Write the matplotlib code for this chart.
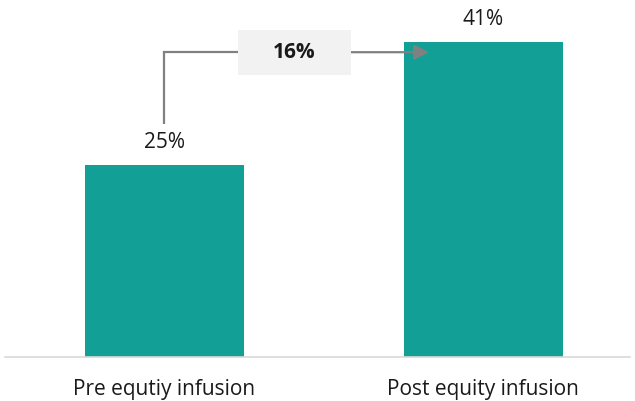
import matplotlib.pyplot as plt
from matplotlib.patches import Rectangle

categories = ["Pre equtiy infusion", "Post equity infusion"]
values = [25, 41]
change_label = "16%"

plt.rcParams["font.family"] = ["Open Sans", "DejaVu Sans"]

fig = plt.figure(figsize=(6.35, 4.01), dpi=100)
ax = fig.add_axes([5 / 635, 44 / 401, 625 / 635, 357 / 401])

x = list(range(len(categories)))
ax.bar(x, values, width=0.5, color="#12A096")

for xi, v in zip(x, values):
    ax.text(xi, v + 3.0, f"{v}%", ha="center", va="center", fontsize=15, color="#1a1a1a")

ax.set_xlim(-0.5, 1.46)
ax.set_ylim(0, 46.5)
ax.set_yticks([])
ax.set_xticks(x)
ax.set_xticklabels(categories, fontsize=15, color="#1a1a1a")
ax.tick_params(axis="x", length=0, pad=16)
for side in ["top", "right", "left"]:
    ax.spines[side].set_visible(False)
ax.spines["bottom"].set_color("#D9D9D9")
ax.spines["bottom"].set_linewidth(1.2)

# elbow connector from the first bar label to the second bar with the delta box
line_y = 39.7
grey = "#808080"
ax.plot([0, 0], [30.3, line_y], color=grey, lw=1.6, solid_capstyle="butt")
ax.plot([0, 0.23], [line_y, line_y], color=grey, lw=1.6)
ax.annotate("", xy=(0.83, line_y), xytext=(0.585, line_y),
            arrowprops=dict(arrowstyle="-|>,head_length=0.9,head_width=0.45",
                            color=grey, lw=1.6, shrinkA=0, shrinkB=0))
ax.add_patch(Rectangle((0.23, line_y - 2.95), 0.355, 5.9,
                       facecolor="#F2F2F2", edgecolor="none", zorder=3))
ax.text(0.4075, line_y, change_label, ha="center", va="center",
        fontsize=15, fontweight="bold", color="#1a1a1a", zorder=4)

fig.savefig("out.png", dpi=100)
